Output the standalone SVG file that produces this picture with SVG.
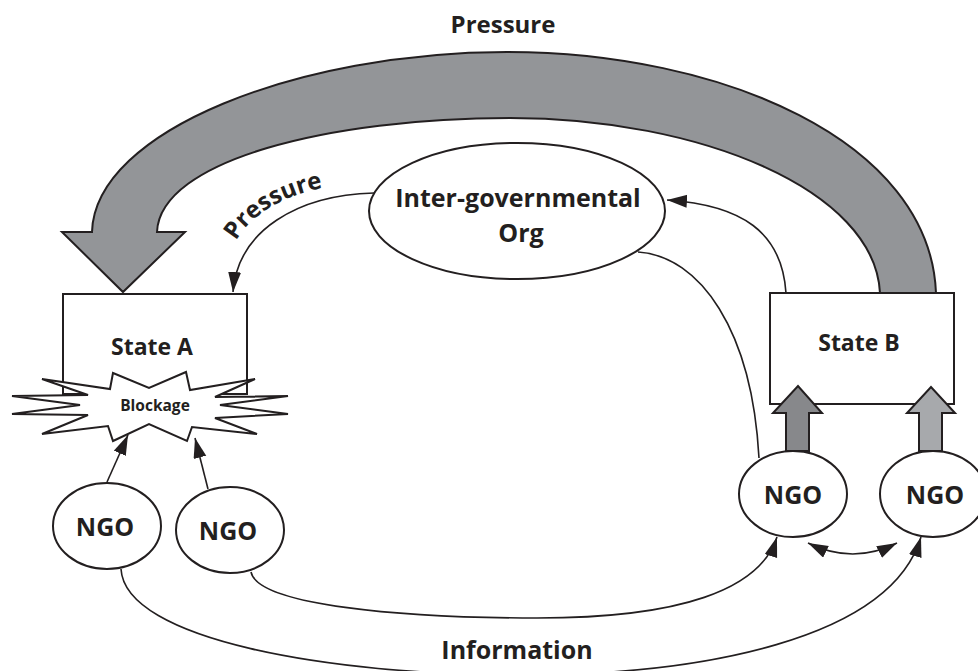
<svg xmlns="http://www.w3.org/2000/svg" width="978" height="671" viewBox="0 0 978 671">
<defs>
<style>
.t{font-family:"Open Sans","Liberation Sans",sans-serif;font-weight:700;fill:#231f20;text-anchor:middle}
.shape{fill:#fff;stroke:#231f20;stroke-width:2}
.line{fill:none;stroke:#231f20;stroke-width:1.6}
.block{stroke:#231f20;stroke-width:2;stroke-linejoin:miter}
</style>
<marker id="ah" markerUnits="userSpaceOnUse" markerWidth="22" markerHeight="16" refX="20" refY="6.5" orient="auto-start-reverse">
<path d="M0,0 L20,6.5 L0,13 Z" fill="#231f20"/>
</marker>
</defs>
<rect width="978" height="671" fill="#fff"/>

<g id="stateA">
<rect class="shape" x="63" y="294" width="184" height="100"/>
<text class="t" x="152" y="355" font-size="23">State A</text>
</g>
<g id="stateB">
<rect class="shape" x="770" y="293" width="184" height="111"/>
<text class="t" x="859" y="351" font-size="23">State B</text>
</g>
<g id="blockage">
<polygon class="shape" points="113,373 149,388 186,372 190,390 255,379 215,397 288,396 220,405 288,414 215,418 257,434 192,427 187,441 149,424 113,441 108,426 42,434 88,415 12,414 80,405 12,396 88,395 42,379 110,389"/>
<text class="t" x="155" y="411" font-size="15.5">Blockage</text>
</g>
<g id="igo">
<ellipse class="shape" cx="517" cy="211" rx="148" ry="68"/>
<text class="t" x="518" y="207" font-size="25">Inter-governmental</text>
<text class="t" x="521" y="242" font-size="25">Org</text>
</g>
<g id="ngo1">
<ellipse class="shape" cx="107" cy="526" rx="54" ry="43"/>
<text class="t" x="105" y="536" font-size="25">NGO</text>
</g>
<g id="ngo2">
<ellipse class="shape" cx="230" cy="530" rx="54" ry="43"/>
<text class="t" x="228" y="540" font-size="25">NGO</text>
</g>
<g id="ngo3">
<ellipse class="shape" cx="793" cy="494" rx="54" ry="43"/>
<text class="t" x="793" y="504" font-size="25">NGO</text>
</g>
<g id="ngo4">
<ellipse class="shape" cx="933" cy="494" rx="53" ry="43"/>
<text class="t" x="935" y="504" font-size="25">NGO</text>
</g>

<g id="connectors">
<path class="block" fill="#939598" d="M62,232 L92,232 C95,130 300,52 507,52 C720,52 930,140 936,293 L880,293 C875,190 700,118 510,118 C330,118 160,160 157,232 L185,232 L123,292 Z"/>
<path class="block" fill="#87888b" d="M786,451 L786,413 L773,413 L798,386 L822,413 L809,413 L809,451 Z"/>
<path class="block" fill="#a7a9ac" d="M919,451 L919,413 L907,413 L931,387 L955,413 L942,413 L942,451 Z"/>
<path class="line" d="M374,193 C298,195 238,230 233,292" marker-end="url(#ah)"/>
<path class="line" d="M786,293 C782,232 742,205 667,200" marker-end="url(#ah)"/>
<path class="line" d="M638,252 C700,256 752,330 759,458"/>
<path class="line" d="M107,482 L128,435" marker-end="url(#ah)"/>
<path class="line" d="M208,489 L195,438" marker-end="url(#ah)"/>
<path class="line" d="M251,572 C258,605 400,618 537,618 C680,618 760,590 777,537" marker-end="url(#ah)"/>
<path class="line" d="M121,569 C125,640 330,675 520,675 C700,675 890,640 921,537" marker-end="url(#ah)"/>
<path class="line" d="M808,543 Q853,565 897,543" marker-start="url(#ah)" marker-end="url(#ah)"/>
</g>

<path id="pp" d="M236,241 C254,210 292,190 348,184" fill="none"/>
<text class="t" font-size="24" style="text-anchor:start"><textPath href="#pp">Pressure</textPath></text>
<text class="t" x="503" y="33" font-size="24">Pressure</text>
<text class="t" x="517" y="659" font-size="25">Information</text>
</svg>
